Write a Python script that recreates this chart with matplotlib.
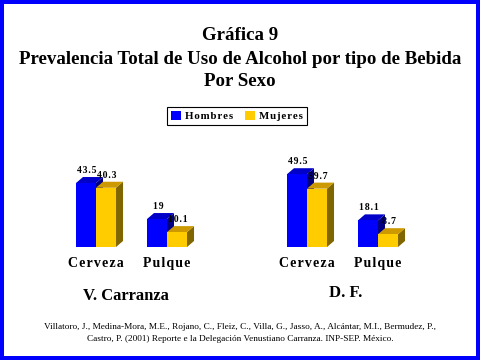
import matplotlib
matplotlib.use("Agg")
import matplotlib.pyplot as plt
from matplotlib.patches import Polygon, Patch

# data
categories = ["Cerveza", "Pulque"]
regions = ["V. Carranza", "D. F."]
hombres = {"V. Carranza": [43.5, 19], "D. F.": [49.5, 18.1]}
mujeres = {"V. Carranza": [40.3, 10.1], "D. F.": [39.7, 8.7]}
value_labels_h = {"V. Carranza": ["43.5", "19"], "D. F.": ["49.5", "18.1"]}
value_labels_m = {"V. Carranza": ["40.3", "10.1"], "D. F.": ["39.7", "8.7"]}

serif = ["Liberation Serif", "DejaVu Serif"]
blue = ("#0000FF", "#0000C8", "#000080")     # front, top, side
gold = ("#FFCC00", "#CC9900", "#806600")


def spaced(s, sp="\u200a"):
    return sp.join(s)


fig = plt.figure(figsize=(4.8, 3.6), dpi=100)
fig.patch.set_edgecolor("#0000FF")
fig.patch.set_linewidth(5.5)

fig.text(0.5, 1 - 36 / 360, "Gráfica 9", ha="center", va="center",
         family=serif, weight="bold", fontsize=13.6)
fig.text(0.5, 1 - 59 / 360, "Prevalencia Total de Uso de Alcohol por tipo de Bebida",
         ha="center", va="center", family=serif, weight="bold", fontsize=13.6)
fig.text(0.5, 1 - 82 / 360, "Por Sexo", ha="center", va="center",
         family=serif, weight="bold", fontsize=13.6)

w = 0.282
dx = 0.0986
dy = 4.1


def bar3d(ax, x0, h, cols):
    x1 = x0 + w
    ax.add_patch(Polygon([(x1, 0), (x1 + dx, dy), (x1 + dx, h + dy), (x1, h)],
                         closed=True, facecolor=cols[2], edgecolor="none", clip_on=False))
    ax.add_patch(Polygon([(x0, h), (x1, h), (x1 + dx, h + dy), (x0 + dx, h + dy)],
                         closed=True, facecolor=cols[1], edgecolor="none", clip_on=False))
    ax.bar(x0, h, width=w, align="edge", color=cols[0], clip_on=False)


lefts = [53.4 / 480, 264.4 / 480]
for i, reg in enumerate(regions):
    ax = fig.add_axes([lefts[i], 113 / 360, 156.2 / 480, 102.9 / 360])
    ax.set_xlim(-0.6, 1.6)
    ax.set_ylim(0, 70)
    ax.axis("off")
    for j in range(len(categories)):
        hv = hombres[reg][j]
        mv = mujeres[reg][j]
        bar3d(ax, j - w, hv, blue)
        bar3d(ax, j, mv, gold)
        ax.annotate(spaced(value_labels_h[reg][j]), (j - w / 2 + dx / 8, hv + dy),
                    xytext=(0, 1.5), textcoords="offset points", ha="center", va="bottom",
                    family=serif, weight="bold", fontsize=7, annotation_clip=False)
        ax.annotate(spaced(value_labels_m[reg][j]), (j + w / 2 + dx / 8, mv + dy),
                    xytext=(0, 1.5), textcoords="offset points", ha="center", va="bottom",
                    family=serif, weight="bold", fontsize=7, annotation_clip=False)
        ax.annotate(spaced(categories[j]), (j, 0), xytext=(0, -12),
                    textcoords="offset points", ha="center", va="center",
                    family=serif, weight="bold", fontsize=10, annotation_clip=False)

fig.text(126 / 480, 1 - 296 / 360, regions[0], ha="center", va="center",
         family=serif, weight="bold", fontsize=12)
fig.text(346 / 480, 1 - 293 / 360, regions[1], ha="center", va="center",
         family=serif, weight="bold", fontsize=12)

handles = [Patch(facecolor=blue[0], label=spaced("Hombres")),
           Patch(facecolor=gold[0], label=spaced("Mujeres"))]
leg = fig.legend(handles=handles, loc="center", bbox_to_anchor=(237 / 480, 1 - 116 / 360),
                 ncol=2, frameon=True, fancybox=False, framealpha=1, edgecolor="black",
                 prop={"family": serif, "weight": "bold", "size": 7.8},
                 handlelength=0.9, handleheight=0.9, handletextpad=0.4,
                 columnspacing=1.1, borderpad=0.4, borderaxespad=0)
leg.get_frame().set_linewidth(0.8)

fig.text(0.5, 1 - 327 / 360,
         "Villatoro, J., Medina-Mora, M.E., Rojano, C., Fleiz, C., Villa, G., Jasso, A., "
         "Alcántar, M.I., Bermudez, P.,",
         ha="center", va="center", family=serif, fontsize=6.7)
fig.text(0.5, 1 - 339 / 360,
         "Castro, P. (2001) Reporte e la Delegación Venustiano Carranza. INP-SEP. México.",
         ha="center", va="center", family=serif, fontsize=6.7)

fig.savefig("out.png", dpi=100)
